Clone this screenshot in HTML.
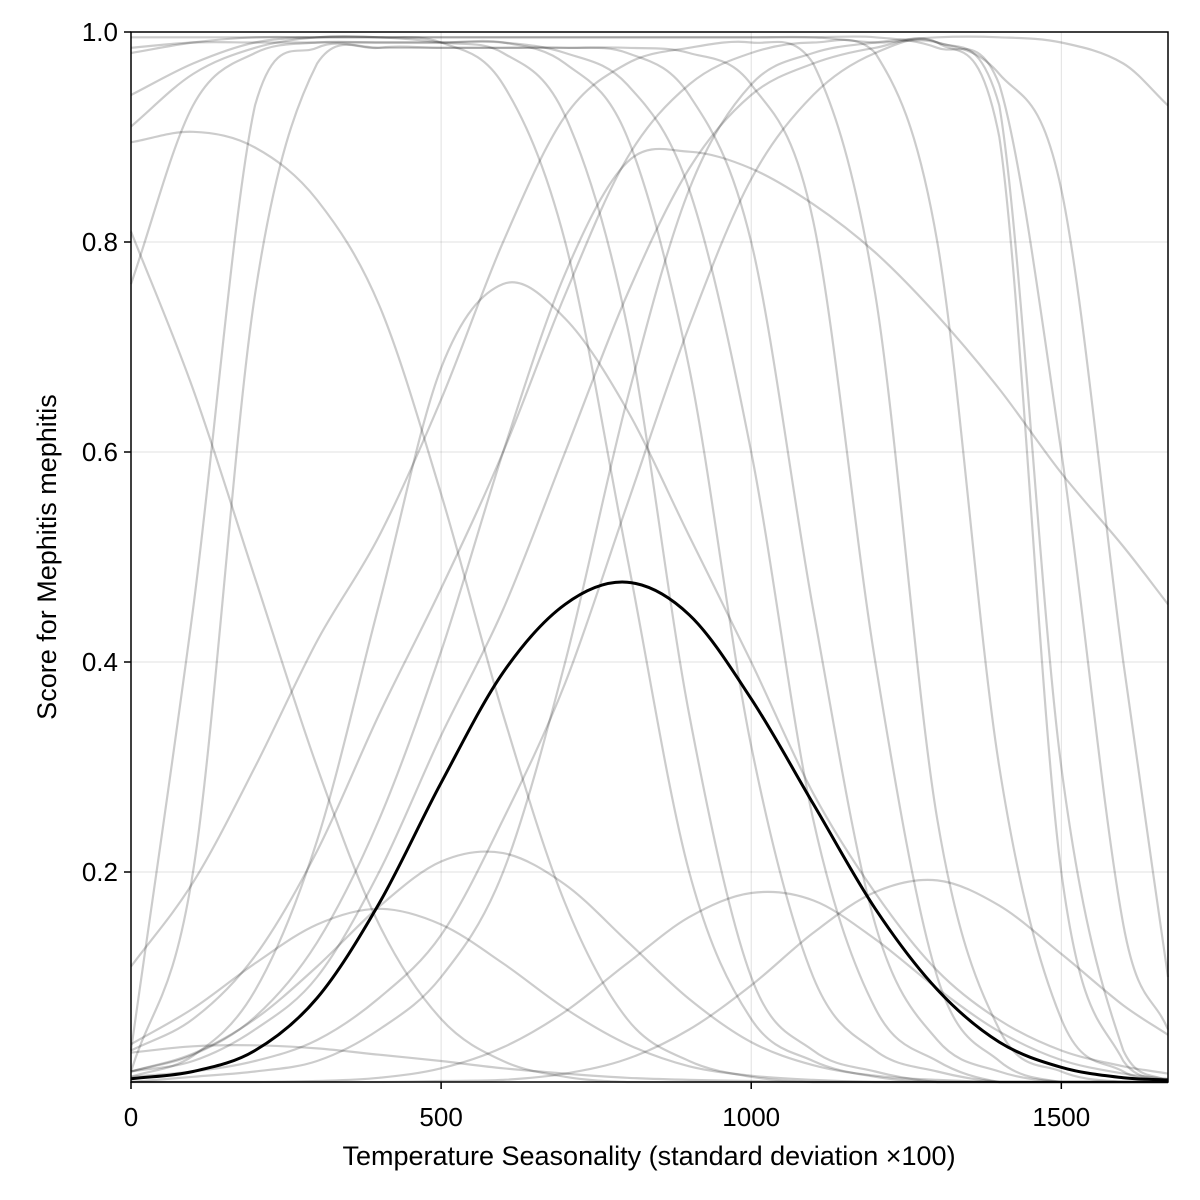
<!DOCTYPE html>
<html><head><meta charset="utf-8"><style>
html,body{margin:0;padding:0;background:#fff;}
svg{display:block;font-family:"Liberation Sans",sans-serif;}
</style></head><body>
<svg id="chart" width="1200" height="1200" viewBox="0 0 1200 1200">
<rect width="1200" height="1200" fill="#fff"/>
<g id="grid"></g>
<g id="curves"></g>
<g id="axes"></g>
<text x="649" y="1165" font-size="27" text-anchor="middle">Temperature Seasonality (standard deviation ×100)</text>
<text transform="translate(56,557) rotate(-90)" font-size="27" text-anchor="middle">Score for Mephitis mephitis</text>
</svg>
<script>
const xs = [0,100,200,300,400,500,600,700,800,900,1000,1100,1200,1300,1400,1500,1600,1672];
const xTicks = [0,500,1000,1500];
const yTicks = [0.2,0.4,0.6,0.8,1.0];
const meanCurve = [0.003,0.01,0.03,0.08,0.17,0.285,0.39,0.455,0.476,0.445,0.365,0.265,0.165,0.088,0.038,0.014,0.004,0.002];
const c1 = [0.91,0.96,0.985,0.995,0.995,0.99,0.95,0.8,0.5,0.2,0.06,0.02,0.005,0,0,0,0,0];
const c2 = [0.94,0.97,0.99,0.995,0.995,0.99,0.98,0.92,0.72,0.35,0.1,0.03,0.01,0,0,0,0,0];
const c3 = [0.985,0.99,0.99,0.99,0.99,0.99,0.99,0.97,0.9,0.68,0.32,0.1,0.03,0.01,0,0,0,0];
const c4 = [0.76,0.93,0.98,0.99,0.99,0.99,0.99,0.98,0.95,0.85,0.6,0.25,0.07,0.02,0,0,0,0];
const c5 = [0.03,0.45,0.93,0.985,0.985,0.985,0.985,0.985,0.98,0.94,0.8,0.45,0.15,0.04,0.01,0,0,0];
const c6 = [0.01,0.2,0.75,0.97,0.985,0.985,0.985,0.985,0.985,0.98,0.95,0.82,0.4,0.1,0.02,0,0,0];
const r1 = [0.11,0.19,0.3,0.42,0.52,0.65,0.8,0.92,0.97,0.985,0.99,0.97,0.75,0.25,0.05,0.01,0,0];
const r2 = [0.03,0.06,0.12,0.22,0.35,0.47,0.6,0.75,0.88,0.95,0.98,0.99,0.98,0.8,0.3,0.06,0.01,0];
const r3 = [0.01,0.02,0.05,0.1,0.2,0.33,0.45,0.6,0.75,0.87,0.94,0.97,0.985,0.99,0.9,0.2,0.02,0];
const r4 = [0.005,0.01,0.02,0.04,0.08,0.14,0.25,0.38,0.55,0.72,0.86,0.94,0.98,0.99,0.93,0.3,0.03,0];
const r5 = [0,0.005,0.01,0.02,0.05,0.1,0.2,0.4,0.65,0.85,0.95,0.98,0.99,0.995,0.995,0.99,0.97,0.93];
const e1 = [0.98,0.99,0.995,0.995,0.995,0.995,0.995,0.995,0.995,0.995,0.995,0.995,0.99,0.99,0.96,0.85,0.4,0.1];
const e2 = [0.995,0.995,0.995,0.995,0.995,0.995,0.995,0.995,0.995,0.995,0.995,0.995,0.995,0.985,0.95,0.6,0.15,0.05];
const d1 = [0.81,0.66,0.48,0.3,0.15,0.06,0.02,0.005,0,0,0,0,0,0,0,0,0,0];
const d2 = [0.895,0.905,0.89,0.84,0.74,0.56,0.35,0.17,0.06,0.02,0.005,0,0,0,0,0,0,0];
const b1 = [0.005,0.025,0.087,0.23,0.455,0.68,0.76,0.727,0.64,0.52,0.4,0.275,0.18,0.106,0.059,0.03,0.015,0.008];
const b2 = [0.01,0.026,0.062,0.133,0.25,0.41,0.6,0.77,0.876,0.886,0.87,0.836,0.79,0.73,0.66,0.58,0.51,0.455];
const b3 = [0.01,0.027,0.06,0.11,0.167,0.21,0.218,0.188,0.134,0.079,0.038,0.016,0.006,0.002,0,0,0,0];
const b4 = [0.036,0.07,0.113,0.15,0.165,0.15,0.113,0.07,0.036,0.015,0.006,0.002,0,0,0,0,0,0];
const b5 = [0,0,0,0.001,0.004,0.013,0.033,0.067,0.113,0.157,0.18,0.173,0.136,0.089,0.048,0.021,0.008,0.003];
const b6 = [0,0,0,0,0,0.001,0.002,0.008,0.022,0.05,0.092,0.142,0.181,0.192,0.168,0.122,0.073,0.045];
const b7 = [0.028,0.034,0.035,0.032,0.026,0.02,0.013,0.008,0.004,0.002,0.001,0,0,0,0,0,0,0];
const grayCurves = [c1,c2,c3,c4,c5,c6,r1,r2,r3,r4,r5,e1,e2,d1,d2,b1,b2,b3,b4,b5,b6,b7];

const NS = "http://www.w3.org/2000/svg";
const L = 131, R = 1168, T = 32, B = 1082, XMAX = 1672;
function sx(v){ return L + (v / XMAX) * (R - L); }
function sy(v){ return B - v * (B - T); }
function mk(tag, attrs, parent){ const e = document.createElementNS(NS, tag); for (const k in attrs) e.setAttribute(k, attrs[k]); parent.appendChild(e); return e; }

function smoothPath(xv, yv){
  const n = xv.length, px = xv.map(sx), py = yv.map(sy);
  const clampY = v => Math.max(T, Math.min(B, v));
  let p = "M" + px[0].toFixed(1) + "," + py[0].toFixed(1);
  for (let i = 0; i < n - 1; i++) {
    const x0 = px[Math.max(0,i-1)], y0 = py[Math.max(0,i-1)];
    const x3 = px[Math.min(n-1,i+2)], y3 = py[Math.min(n-1,i+2)];
    const h = px[i+1] - px[i];
    const m1 = (py[i+1] - y0) / (px[i+1] - x0);
    const m2 = (y3 - py[i]) / (x3 - px[i]);
    const c1y = clampY(py[i] + m1*h/3), c2y = clampY(py[i+1] - m2*h/3);
    p += " C" + (px[i]+h/3).toFixed(1) + "," + c1y.toFixed(1) + " " + (px[i+1]-h/3).toFixed(1) + "," + c2y.toFixed(1) + " " + px[i+1].toFixed(1) + "," + py[i+1].toFixed(1);
  }
  return p;
}

const grid = document.getElementById("grid");
xTicks.forEach(t => {
  const g = mk("line", {x1: sx(t), x2: sx(t), y1: T, y2: B, stroke: "rgba(0,0,0,0.12)", "stroke-width": 1}, grid);
  
  
});
yTicks.forEach(t => {
  const g = mk("line", {x1: L, x2: R, y1: sy(t), y2: sy(t), stroke: "rgba(0,0,0,0.12)", "stroke-width": 1}, grid);
  
  
});

const cg = document.getElementById("curves");
grayCurves.forEach(c => {
  const p = mk("path", {d: smoothPath(xs, c), fill: "none", stroke: "rgba(0,0,0,0.2)", "stroke-width": 2.2}, cg);
  
  
});
const mp = mk("path", {d: smoothPath(xs, meanCurve), fill: "none", stroke: "#000", "stroke-width": 3}, cg);



const ax = document.getElementById("axes");
const frame = mk("rect", {x: L, y: T, width: R - L, height: B - T, fill: "none", stroke: "#000", "stroke-width": 1.5}, ax);


xTicks.forEach(t => {
  const tk = mk("line", {x1: sx(t), x2: sx(t), y1: B, y2: B + 7, stroke: "#000", "stroke-width": 1.5}, ax);
  
  
  const lb = mk("text", {x: sx(t), y: B + 44, "font-size": 26, "text-anchor": "middle"}, ax);
  lb.textContent = String(t);
  
  
});
yTicks.forEach(t => {
  const tk = mk("line", {x1: L - 7, x2: L, y1: sy(t), y2: sy(t), stroke: "#000", "stroke-width": 1.5}, ax);
  
  
  const lb = mk("text", {x: L - 13, y: sy(t) + 9, "font-size": 26, "text-anchor": "end"}, ax);
  lb.textContent = t.toFixed(1);
  
  
});
</script>
</body></html>
